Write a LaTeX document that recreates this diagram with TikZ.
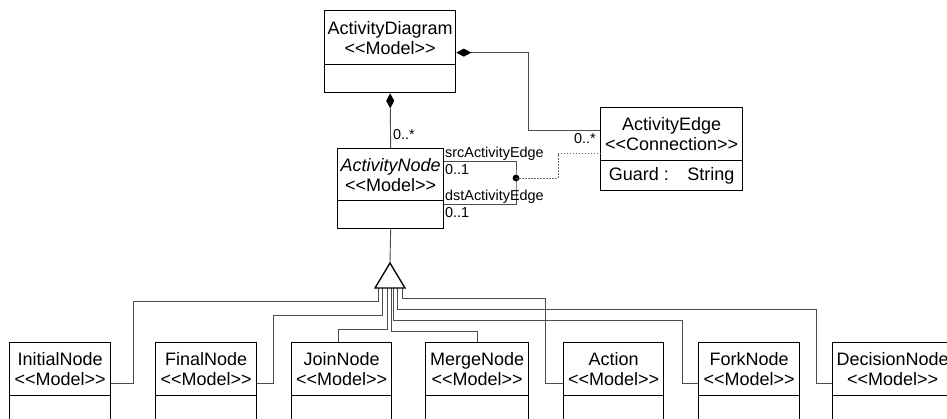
\documentclass[tikz,border=0pt]{standalone}
\usepackage{fontspec}
\newfontfamily\umlfont{Liberation Sans}
\usetikzlibrary{arrows.meta,calc}
\newcommand\stereo[1]{<\kern0pt<#1>\kern0pt>}
\newcommand\bigf{\umlfont\fontsize{18}{20}\selectfont}
\newcommand\smallf{\umlfont\fontsize{14.4}{16}\selectfont}
\begin{document}
\begin{tikzpicture}[x=1pt,y=-1pt,
  cls/.style={draw, line width=1.3pt, anchor=north west, inner sep=0pt, align=center, font=\bigf, fill=white},
  conn/.style={draw=black!70, line width=0.9pt},
  dotconn/.style={draw=black!60, line width=0.9pt, dash pattern=on 1.5pt off 1.5pt},
  lbl/.style={font=\smallf, inner sep=0pt, anchor=base west},
  compo/.style={conn, {Diamond[length=15pt,width=8pt,color=black]}-}]
\useasboundingbox (0,0) rectangle (947,419);
\fill[white] (0,0) rectangle (947,419);

% ActivityDiagram
\node[cls, minimum width=131pt, minimum height=54pt] (ad) at (324,10) {ActivityDiagram\\\stereo{Model}};
\node[cls, minimum width=131pt, minimum height=28pt] (adb) at (324,64) {};
% ActivityNode
\node[cls, minimum width=106pt, minimum height=52pt] (an) at (337,148) {\itshape ActivityNode\\\stereo{Model}};
\node[cls, minimum width=106pt, minimum height=28pt] (anb) at (337,200) {};
% ActivityEdge
\node[cls, minimum width=142pt, minimum height=53pt] (ae) at (600,107) {ActivityEdge\\\stereo{Connection}};
\node[cls, minimum width=142pt, minimum height=30pt] (aeb) at (600,160) {Guard :\enspace\, String};

% bottom classes
\foreach \nm/\x/\w/\t in {init/9/101/InitialNode, fin/155/101/FinalNode, join/291/100/JoinNode, merge/425/103/MergeNode, act/563/100/Action, fork/698/101/ForkNode, dec/832/120/DecisionNode}{
  \node[cls, minimum width=\w pt, minimum height=53pt] (\nm) at (\x,342) {\t\\\stereo{Model}};
  \node[cls, minimum width=\w pt, minimum height=45pt] (\nm b) at (\x,395) {};
}

% composition ActivityDiagram -> ActivityNode
\draw[compo] (adb.south) -- (an.north);
\node[lbl] (m1) at (393,140) {0..*};
% composition ActivityDiagram -> ActivityEdge
\draw[compo] ([yshift=-15pt]ad.east) -- ++(72,0) |- ([yshift=3.5pt]ae.west);
\node[lbl, anchor=base east] (m2) at (596,144) {0..*};

% src / dst association
\coordinate (jn) at (516,178);
\draw[conn] ([yshift=13pt]an.east) -| (jn) |- ([yshift=10pt]anb.east);
\fill (jn) circle (3.4pt);
\draw[dotconn] (jn) -- ++(42,0) |- ([yshift=-19.5pt]ae.west);
\node[lbl] (src) at (445,158) {srcActivityEdge};
\node[lbl] (sm) at (445,175) {0..1};
\node[lbl] (dst) at (445,201) {dstActivityEdge};
\node[lbl] (dm) at (445,218) {0..1};

% generalization
\coordinate (tri) at (390,263);
\draw[conn] (anb.south) -- (tri);
\coordinate (b1) at (378,288);
\coordinate (b2) at (382,288);
\coordinate (b3) at (387,288);
\coordinate (b4) at (391,288);
\coordinate (b5) at (393,288);
\coordinate (b6) at (397,288);
\coordinate (b7) at (402,288);
\draw[conn] (b1) |- (133,301) |- ([yshift=-14.5pt]init.east);
\draw[conn] (b2) |- (273,315) |- ([yshift=-14.5pt]fin.east);
\draw[conn] (b3) -- ++(0,41) -| ([xshift=-3pt]join.north);
\draw[conn] (b4) -- ++(0,43) -| (merge.north);
\draw[conn] (b7) |- (545,298) |- ([yshift=-14.5pt]act.west);
\draw[conn] (b5) |- (682,320) |- ([yshift=-14.5pt]fork.west);
\draw[conn] (b6) |- (816,309) |- ([yshift=-14.5pt]dec.west);
\draw[line width=1.3pt, fill=white] (tri) -- ++(15,25) -- ++(-30,0) -- cycle;
\end{tikzpicture}
\end{document}
